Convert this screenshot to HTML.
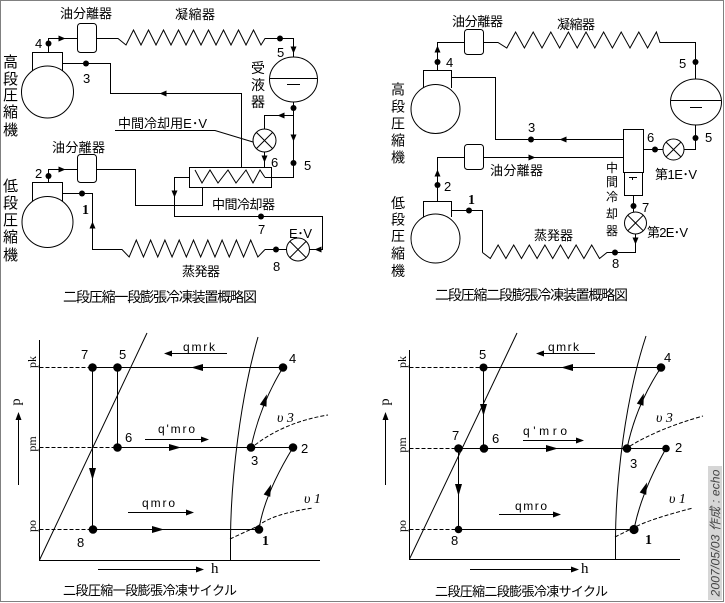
<!DOCTYPE html>
<html><head><meta charset="utf-8"><style>
html,body{margin:0;padding:0;background:#fff;width:725px;height:603px;overflow:hidden;}
svg{display:block;}
text{font-family:"Liberation Sans","Noto Sans CJK JP",sans-serif;fill:#000;}
.j{font-size:13px;}
.v{font-size:15px;}
.n{font-size:13px;}
.s{font-family:"Liberation Serif","Noto Serif CJK SC",serif;}
.b{font-family:"Liberation Serif",serif;font-weight:bold;font-size:14px;}
.i{font-family:"Liberation Serif",serif;font-style:italic;font-size:14px;}
</style></head><body>
<svg width="725" height="603" viewBox="0 0 725 603" xmlns="http://www.w3.org/2000/svg">
<rect x="0" y="0" width="725" height="603" fill="#fff"/>
<rect x="0.5" y="0.5" width="723" height="601" fill="none" stroke="#808080" stroke-width="1"/>

<!-- ================= TOP LEFT ================= -->
<g stroke="#000" stroke-width="1" fill="none">
  <!-- high compressor -->
  <path d="M32.5,71 V52.5 H62.5 V71"/>
  <circle cx="47.5" cy="92" r="26"/>
  <path d="M48.5,52 V38.5 H77"/>
  <rect x="77.5" y="23.5" width="19" height="29" rx="3"/>
  <polyline points="96.5,38.5 118,38.5 126,45 133.5,30 141,45 148.5,30 156,45 163.5,30 171,45 178.5,30 186,45 193.5,30 201,45 208.5,30 216,45 223.5,30 231,45 238.5,30 246,45 253.5,30 261,45 265,38.5 293.5,38.5 293.5,57"/>
  <!-- receiver -->
  <ellipse cx="293.5" cy="79.5" rx="24" ry="22.5"/>
  <path d="M269.5,78.5 H317.5 M287,84.5 H300"/>
  <path d="M293.5,102 V177.5 H265"/>
  <path d="M293.5,115.5 H264.5 V129"/>
  <!-- upper EV -->
  <circle cx="264.5" cy="140.5" r="11.5"/>
  <path d="M256.4,132.4 L272.6,148.6 M272.6,132.4 L256.4,148.6"/>
  <path d="M264.5,152 V167"/>
  <!-- intercooler -->
  <rect x="189.5" y="167.5" width="82" height="20"/>
  <polyline points="195,170 202,183 210,170 218,183 228,170 236,183 246,170 253,183 260,170 265,177.5"/>
  <!-- line 3 -->
  <path d="M62.5,63.5 H110.5 V93.5 H241.5 V167"/>
  <!-- leader -->
  <path d="M115,130.5 H215 L253,142"/>
  <!-- intercooler liquid out -->
  <path d="M189,177.5 H174.5 V216.5 H322.5 V249.5 H309.5"/>
  <!-- low compressor -->
  <path d="M32.5,201 V182.5 H62.5 V201"/>
  <circle cx="47.5" cy="222" r="25.5"/>
  <path d="M48.5,182 V169.5 H77"/>
  <rect x="77.5" y="154.5" width="19" height="28" rx="3"/>
  <path d="M96.5,169.5 H135.5 V205.5 H202.5 V187"/>
  <!-- low EV -->
  <circle cx="298" cy="249.5" r="11.5"/>
  <path d="M289.9,241.4 L306.1,257.6 M306.1,241.4 L289.9,257.6"/>
  <path d="M286.5,249.5 H265"/>
  <polyline points="265,249.5 257.85,257 250.7,240 243.55,257 236.4,240 229.25,257 222.1,240 214.95,257 207.8,240 200.65,257 193.5,240 186.35,257 179.2,240 172.05,257 164.9,240 157.75,257 150.6,240 143.45,257 136.3,240 129.15,257 122,249.5 92.5,249.5 92.5,193.5 62.5,193.5"/>
</g>
<g fill="#000">
  <circle cx="48.5" cy="43.5" r="3"/>
  <circle cx="280" cy="38.5" r="3"/>
  <circle cx="293.5" cy="108" r="3"/>
  <circle cx="293.5" cy="163" r="3"/>
  <circle cx="86" cy="63.5" r="3"/>
  <circle cx="261" cy="216.5" r="3"/>
  <circle cx="48.5" cy="176" r="3"/>
  <circle cx="276" cy="249.5" r="3"/>
  <circle cx="82" cy="193.5" r="3"/>
  <polygon points="3.5,0 -3.5,-3 -3.5,3" transform="translate(62,38.5)"/>
  <polygon points="3.5,0 -3.5,-3 -3.5,3" transform="translate(293.5,50) rotate(90)"/>
  <polygon points="3.5,0 -3.5,-3 -3.5,3" transform="translate(281,115.5) rotate(180)"/>
  <polygon points="3.5,0 -3.5,-3 -3.5,3" transform="translate(293.5,138) rotate(90)"/>
  <polygon points="3.5,0 -3.5,-3 -3.5,3" transform="translate(264.5,159) rotate(90)"/>
  <polygon points="3.5,0 -3.5,-3 -3.5,3" transform="translate(163,93.5) rotate(180)"/>
  <polygon points="3.5,0 -3.5,-3 -3.5,3" transform="translate(174.5,194) rotate(90)"/>
  <polygon points="3.5,0 -3.5,-3 -3.5,3" transform="translate(318,249.5) rotate(180)"/>
  <polygon points="3.5,0 -3.5,-3 -3.5,3" transform="translate(62,169.5)"/>
  <polygon points="3.5,0 -3.5,-3 -3.5,3" transform="translate(92.5,225) rotate(-90)"/>
</g>
<g>
  <text class="j" x="60" y="18" textLength="52">油分離器</text>
  <text class="j" x="175" y="19" textLength="40">凝縮器</text>
  <text class="v" x="3" y="67">高</text>
  <text class="v" x="3" y="84">段</text>
  <text class="v" x="3" y="100">圧</text>
  <text class="v" x="3" y="117">縮</text>
  <text class="v" x="3" y="135">機</text>
  <text class="v" x="251" y="73" style="font-size:14px">受</text>
  <text class="v" x="251" y="90" style="font-size:14px">液</text>
  <text class="v" x="251" y="107" style="font-size:14px">器</text>
  <text class="j" x="118" y="128" textLength="89">中間冷却用E･V</text>
  <text class="j" x="52" y="152" textLength="53">油分離器</text>
  <text class="j" x="212" y="209" textLength="63">中間冷却器</text>
  <text class="v" x="3" y="191">低</text>
  <text class="v" x="3" y="208">段</text>
  <text class="v" x="3" y="225">圧</text>
  <text class="v" x="3" y="242">縮</text>
  <text class="v" x="3" y="260">機</text>
  <text class="j" x="289" y="238" textLength="23">E･V</text>
  <text class="j" x="182" y="276" textLength="38">蒸発器</text>
  <text style="font-size:14px" x="63" y="302" textLength="194">二段圧縮一段膨張冷凍装置概略図</text>
  <text class="n" x="35" y="48">4</text>
  <text class="n" x="83" y="83">3</text>
  <text class="n" x="277" y="57">5</text>
  <text class="n" x="271" y="167">6</text>
  <text class="n" x="304" y="170">5</text>
  <text class="n" x="35" y="178">2</text>
  <text class="b" x="82" y="214">1</text>
  <text class="n" x="258" y="234">7</text>
  <text class="n" x="273" y="271">8</text>
</g>

<!-- ================= TOP RIGHT ================= -->
<g stroke="#000" stroke-width="1" fill="none">
  <path d="M423.5,88 V70.5 H451.5 V88"/>
  <circle cx="435.5" cy="109" r="24.5"/>
  <path d="M437.5,70 V42.5 H464"/>
  <rect x="464.5" y="29.5" width="19" height="25" rx="3"/>
  <polyline points="483.5,42.5 498,42.5 506.8,48 515.6,32 524.4,48 533.2,32 542,48 550.8,32 559.6,48 568.4,32 577.2,48 586,32 594.8,48 603.6,32 612.4,48 621.2,32 630,48 638.8,32 647.6,48 656.4,32 660,42.5 695.5,42.5 695.5,79"/>
  <ellipse cx="696" cy="102" rx="25.5" ry="23"/>
  <path d="M670.5,100.5 H721.5 M690,107.5 H702"/>
  <path d="M695.5,125 V149.5 H684"/>
  <circle cx="673.5" cy="149.5" r="10.5"/>
  <path d="M666.1,142.1 L680.9,156.9 M680.9,142.1 L666.1,156.9"/>
  <path d="M663,149.5 H643.5"/>
  <rect x="623.5" y="129.5" width="20" height="43"/>
  <rect x="624.5" y="172.5" width="18" height="23"/>
  <path d="M629,177.5 H637 M632.5,177.5 V180"/>
  <path d="M451.5,77.5 H495.5 V139.5 H623"/>
  <path d="M423.5,217 V201.5 H451.5 V217"/>
  <circle cx="435.5" cy="238.5" r="24.5"/>
  <path d="M437.5,201 V157.5 H464"/>
  <rect x="464.5" y="144.5" width="19" height="25" rx="3"/>
  <path d="M483.5,157.5 H623"/>
  <path d="M451.5,210.5 H482.5 V252.5"/>
  <polyline points="482.5,252.5 490.3,258.5 498.1,245 505.9,258.5 513.7,245 521.5,258.5 529.3,245 537.1,258.5 544.9,245 552.7,258.5 560.5,245 568.3,258.5 576.1,245 583.9,258.5 591.7,245 599.5,258.5 607,252.5 635.5,252.5 635.5,234"/>
  <circle cx="635.5" cy="223" r="11"/>
  <path d="M627.7,215.2 L643.3,230.8 M643.3,215.2 L627.7,230.8"/>
  <path d="M633.5,196 V212"/>
</g>
<g fill="#000">
  <circle cx="437.5" cy="62" r="3"/>
  <circle cx="695.5" cy="62" r="3"/>
  <circle cx="695.5" cy="138" r="3"/>
  <circle cx="655" cy="149.5" r="3"/>
  <circle cx="531" cy="139.5" r="3"/>
  <circle cx="437.5" cy="185" r="3"/>
  <circle cx="469" cy="210.5" r="3"/>
  <circle cx="633.5" cy="206" r="3"/>
  <circle cx="615" cy="252.5" r="3"/>
  <polygon points="3.5,0 -3.5,-3 -3.5,3" transform="translate(437.5,49) rotate(-90)"/>
  <polygon points="3.5,0 -3.5,-3 -3.5,3" transform="translate(563,139.5) rotate(180)"/>
  <polygon points="3.5,0 -3.5,-3 -3.5,3" transform="translate(437.5,173) rotate(-90)"/>
  <polygon points="3.5,0 -3.5,-3 -3.5,3" transform="translate(532,157.5)"/>
  <polygon points="3.5,0 -3.5,-3 -3.5,3" transform="translate(635.5,241) rotate(90)"/>
</g>
<g>
  <text class="j" x="452" y="26" textLength="51">油分離器</text>
  <text class="j" x="557" y="29" textLength="38">凝縮器</text>
  <text class="v" x="391" y="94.5" style="font-size:14px">高</text>
  <text class="v" x="391" y="111.5" style="font-size:14px">段</text>
  <text class="v" x="391" y="128.5" style="font-size:14px">圧</text>
  <text class="v" x="391" y="145.5" style="font-size:14px">縮</text>
  <text class="v" x="391" y="162.5" style="font-size:14px">機</text>
  <text class="v" x="391" y="208" style="font-size:14px">低</text>
  <text class="v" x="391" y="224.5" style="font-size:14px">段</text>
  <text class="v" x="391" y="241" style="font-size:14px">圧</text>
  <text class="v" x="391" y="258.5" style="font-size:14px">縮</text>
  <text class="v" x="391" y="276" style="font-size:14px">機</text>
  <text style="font-size:12px" x="606" y="172">中</text>
  <text style="font-size:12px" x="606" y="186">間</text>
  <text style="font-size:12px" x="606" y="201">冷</text>
  <text style="font-size:12px" x="606" y="218">却</text>
  <text style="font-size:12px" x="606" y="235">器</text>
  <text class="j" x="655" y="179" textLength="42">第1E･V</text>
  <text class="j" x="647" y="237" textLength="41">第2E･V</text>
  <text class="j" x="490" y="175" textLength="53">油分離器</text>
  <text class="j" x="534" y="240" textLength="39">蒸発器</text>
  <text style="font-size:14px" x="435" y="300" textLength="193">二段圧縮二段膨張冷凍装置概略図</text>
  <text class="n" x="446" y="67">4</text>
  <text class="n" x="679" y="68">5</text>
  <text class="n" x="705" y="142">5</text>
  <text class="n" x="647" y="142">6</text>
  <text class="n" x="528" y="132">3</text>
  <text class="n" x="444" y="191">2</text>
  <text class="b" x="468" y="204">1</text>
  <text class="n" x="642" y="212">7</text>
  <text class="n" x="612" y="268">8</text>
</g>

<!-- ================= BOTTOM LEFT ================= -->
<g stroke="#000" stroke-width="1" fill="none">
  <path d="M39.5,340 V560.5 H320"/>
  <path d="M39.5,560 L147,333"/>
  <path d="M230.5,560 V537 C231,480 240,400 258,337"/>
  <path d="M39.5,367.5 H92 M39.5,447.5 H117 M39.5,529.5 H93" stroke-dasharray="4,2"/>
  <path d="M92,367.5 H283 M117,447.5 H293 M93,529.5 H259"/>
  <path d="M92.5,368 V529 M117.5,368 V447"/>
  <path d="M259,529.5 Q264,495 293,447.5"/>
  <path d="M251,447.5 Q260,405 283,367.5"/>
  <path d="M230,539 L258,526 Q272,514 313,508" stroke-dasharray="4,2"/>
  <path d="M255,445 Q285,422 328,415" stroke-dasharray="4,2"/>
  <path d="M18.5,485 V418"/>
  <path d="M98,569.5 H198"/>
  <path d="M227,353.5 H170"/>
  <path d="M145,439.5 H203"/>
  <path d="M128,512.5 H188"/>
</g>
<g fill="#000">
  <circle cx="92.5" cy="367.5" r="4.3"/>
  <circle cx="117.5" cy="367.5" r="4.3"/>
  <circle cx="283" cy="367.5" r="4.3"/>
  <circle cx="117.5" cy="447.5" r="4.3"/>
  <circle cx="251" cy="447.5" r="4.3"/>
  <circle cx="293" cy="447.5" r="4.3"/>
  <circle cx="93" cy="529.5" r="4.3"/>
  <circle cx="259" cy="529.5" r="4.3"/>
  <polygon points="6,0 -6,-3.5 -6,3.5" transform="translate(197,367.5) rotate(180)"/>
  <polygon points="6,0 -6,-3.5 -6,3.5" transform="translate(175,447.5)"/>
  <polygon points="6,0 -6,-3.5 -6,3.5" transform="translate(158,529.5)"/>
  <polygon points="6,0 -6,-3.5 -6,3.5" transform="translate(92.5,474) rotate(90)"/>
  <polygon points="6,0 -6,-3.5 -6,3.5" transform="translate(269,490) rotate(-70)"/>
  <polygon points="6,0 -6,-3.5 -6,3.5" transform="translate(265,400) rotate(-72)"/>
  <polygon points="4,0 -4,-3 -4,3" transform="translate(18.5,416) rotate(-90)"/>
  <polygon points="4,0 -4,-3 -4,3" transform="translate(200,569.5)"/>
  <polygon points="4,0 -4,-3 -4,3" transform="translate(168,353.5) rotate(180)"/>
  <polygon points="4,0 -4,-3 -4,3" transform="translate(205,439.5)"/>
  <polygon points="4,0 -4,-3 -4,3" transform="translate(190,512.5)"/>
</g>
<g>
  <text class="n" x="81" y="359">7</text>
  <text class="n" x="119" y="359">5</text>
  <text class="n" x="289" y="363">4</text>
  <text class="n" x="125" y="442">6</text>
  <text class="n" x="251" y="465">3</text>
  <text class="n" x="301" y="453">2</text>
  <text class="n" x="77" y="547">8</text>
  <text class="b" x="262" y="545">1</text>
  <text class="i" x="304" y="503">υ 1</text>
  <text class="i" x="277" y="422">υ 3</text>
  <text style="font-size:12px" x="183" y="351" textLength="32">qmrk</text>
  <text style="font-size:12px" x="158" y="433" textLength="37">q'mro</text>
  <text style="font-size:12px" x="142" y="507" textLength="33">qmro</text>
  <text class="s" style="font-size:15px" x="211" y="573">h</text>
  <text class="s" style="font-size:14px" text-anchor="middle" transform="translate(20,402) rotate(-90)">p</text>
  <text class="s" style="font-size:12px" text-anchor="middle" transform="translate(36,362) rotate(-90)">pk</text>
  <text class="s" style="font-size:12px" text-anchor="middle" transform="translate(36,444) rotate(-90)">pm</text>
  <text class="s" style="font-size:12px" text-anchor="middle" transform="translate(36,526) rotate(-90)">po</text>
  <text style="font-size:13px" x="63" y="595" textLength="174">二段圧縮一段膨張冷凍サイクル</text>
</g>

<!-- ================= BOTTOM RIGHT ================= -->
<g stroke="#000" stroke-width="1" fill="none">
  <path d="M409.5,350 V559.5 H680"/>
  <path d="M409.5,559 L517,333"/>
  <path d="M615.5,559 V537 C616,480 625,400 646,336"/>
  <path d="M409.5,367.5 H483 M409.5,448.5 H458 M409.5,529.5 H458" stroke-dasharray="4,2"/>
  <path d="M483,367.5 H661 M458,448.5 H666 M458,529.5 H634"/>
  <path d="M483.5,367 V448 M458.5,448 V529"/>
  <path d="M634,529.5 Q641,493 666,448.5"/>
  <path d="M627,448.5 Q636,405 661,367.5"/>
  <path d="M615,537 L633,528 Q650,519 693,508" stroke-dasharray="4,2"/>
  <path d="M630,446 Q660,428 703,416" stroke-dasharray="4,2"/>
  <path d="M385.5,485 V418"/>
  <path d="M470,569.5 H573"/>
  <path d="M595,353.5 H542"/>
  <path d="M523,440.5 H578"/>
  <path d="M499,514.5 H555"/>
</g>
<g fill="#000">
  <circle cx="483.5" cy="367.5" r="4"/>
  <circle cx="661" cy="367.5" r="4.3"/>
  <circle cx="458.5" cy="448.5" r="4.3"/>
  <circle cx="484" cy="448.5" r="4.3"/>
  <circle cx="627" cy="448.5" r="4.3"/>
  <circle cx="666" cy="448.5" r="3.8"/>
  <circle cx="458.5" cy="529.5" r="3.8"/>
  <circle cx="634" cy="529.5" r="4.6"/>
  <polygon points="6,0 -6,-3.5 -6,3.5" transform="translate(567,367.5) rotate(180)"/>
  <polygon points="6,0 -6,-3.5 -6,3.5" transform="translate(552,448.5)"/>
  <polygon points="6,0 -6,-3.5 -6,3.5" transform="translate(483.5,410) rotate(90)"/>
  <polygon points="6,0 -6,-3.5 -6,3.5" transform="translate(458.5,490) rotate(90)"/>
  <polygon points="6,0 -6,-3.5 -6,3.5" transform="translate(645,488) rotate(-70)"/>
  <polygon points="6,0 -6,-3.5 -6,3.5" transform="translate(642,399) rotate(-72)"/>
  <polygon points="4,0 -4,-3 -4,3" transform="translate(385.5,416) rotate(-90)"/>
  <polygon points="4,0 -4,-3 -4,3" transform="translate(575,569.5)"/>
  <polygon points="4,0 -4,-3 -4,3" transform="translate(540,353.5) rotate(180)"/>
  <polygon points="4,0 -4,-3 -4,3" transform="translate(580,440.5)"/>
  <polygon points="4,0 -4,-3 -4,3" transform="translate(557,514.5)"/>
</g>
<g>
  <text class="n" x="479" y="359">5</text>
  <text class="n" x="664" y="362">4</text>
  <text class="n" x="452" y="440">7</text>
  <text class="n" x="492" y="443">6</text>
  <text class="n" x="630" y="468">3</text>
  <text class="n" x="675" y="452">2</text>
  <text class="n" x="451" y="545">8</text>
  <text class="b" x="645" y="544">1</text>
  <text class="i" x="669" y="503">υ 1</text>
  <text class="i" x="656" y="422">υ 3</text>
  <text style="font-size:12px" x="548" y="351" textLength="31">qmrk</text>
  <text style="font-size:12px" x="523" y="435" textLength="44">q'mro</text>
  <text style="font-size:12px" x="515" y="510" textLength="32">qmro</text>
  <text class="s" style="font-size:15px" x="581" y="573">h</text>
  <text class="s" style="font-size:14px" text-anchor="middle" transform="translate(389,402) rotate(-90)">p</text>
  <text class="s" style="font-size:12px" text-anchor="middle" transform="translate(406,362) rotate(-90)">pk</text>
  <text class="s" style="font-size:12px" text-anchor="middle" transform="translate(406,445) rotate(-90)">pm</text>
  <text class="s" style="font-size:12px" text-anchor="middle" transform="translate(406,526) rotate(-90)">po</text>
  <text style="font-size:13px" x="435" y="596" textLength="173">二段圧縮二段膨張冷凍サイクル</text>
</g>

<!-- watermark strip -->
<rect x="708" y="466" width="14" height="134" fill="#d6d6d6"/>
<text style="font-size:12px;font-style:italic;fill:#444" text-anchor="middle" textLength="127" transform="translate(719.5,533) rotate(-90)">2007/05/03 作成 : echo</text>
</svg>
</body></html>
